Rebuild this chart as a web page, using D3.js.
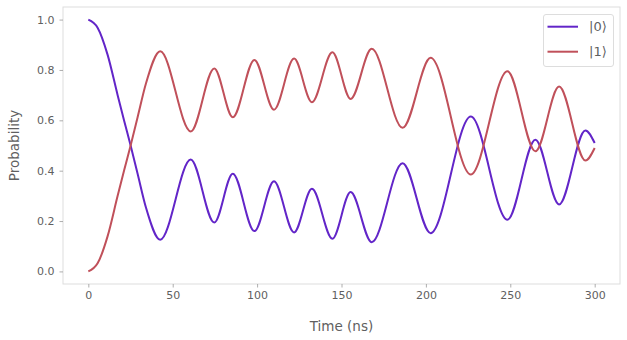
<!DOCTYPE html>
<html>
<head>
<meta charset="utf-8">
<script src="https://cdn.jsdelivr.net/npm/d3@7"></script>
<style>
  html, body { margin: 0; padding: 0; background: #ffffff; }
  svg { display: block; font-family: "DejaVu Sans", sans-serif; }
</style>
</head>
<body>
<svg id="chart" width="627" height="340"></svg>
<script>
// ---- data ----
const timesNs = [0, 5.5, 11.4, 17.3, 21.3, 24.8, 29.2, 34.1, 42.6, 60.7, 74.6, 85.6, 98.4, 110, 121.9, 132.5, 144.6, 155.4, 167.9, 186.2, 202.8, 226.6, 248.3, 264.9, 278.9, 294.5, 300];
const prob0 = [1.0, 0.968, 0.861, 0.702, 0.596, 0.507, 0.388, 0.255, 0.126, 0.444, 0.194, 0.388, 0.160, 0.358, 0.155, 0.328, 0.130, 0.315, 0.116, 0.430, 0.152, 0.615, 0.205, 0.523, 0.266, 0.560, 0.51];
const prob1 = [0.0, 0.032, 0.139, 0.298, 0.404, 0.493, 0.612, 0.745, 0.874, 0.556, 0.806, 0.612, 0.840, 0.642, 0.845, 0.672, 0.870, 0.685, 0.884, 0.570, 0.848, 0.385, 0.795, 0.477, 0.734, 0.440, 0.49];
const seriesNames = ["|0\u27E9", "|1\u27E9"];
const seriesColors = ["#6225c8", "#c0505a"];
const xTicks = [0, 50, 100, 150, 200, 250, 300];
const yTicks = [0.0, 0.2, 0.4, 0.6, 0.8, 1.0];

// ---- layout ----
const svg = d3.select("#chart");
const frame = { left: 63, top: 7, right: 620, bottom: 284 };
const textColor = "#5f5f5f";
const frameColor = "#dddddd";

const x = d3.scaleLinear().domain([-15, 315]).range([frame.left, frame.right]);
const y = d3.scaleLinear().domain([-0.05, 1.05]).range([frame.bottom, frame.top]);

// frame
svg.append("rect")
  .attr("x", frame.left).attr("y", frame.top)
  .attr("width", frame.right - frame.left).attr("height", frame.bottom - frame.top)
  .attr("fill", "none").attr("stroke", frameColor).attr("stroke-width", 1);

// axes
const xAxis = svg.append("g")
  .attr("transform", `translate(0,${frame.bottom})`)
  .call(d3.axisBottom(x).tickValues(xTicks).tickFormat(d3.format("d")).tickSizeOuter(0).tickSize(3.5).tickPadding(4));
const yAxis = svg.append("g")
  .attr("transform", `translate(${frame.left},0)`)
  .call(d3.axisLeft(y).tickValues(yTicks).tickFormat(d3.format(".1f")).tickSizeOuter(0).tickSize(3.5).tickPadding(5));

[xAxis, yAxis].forEach(g => {
  g.select(".domain").remove();
  g.selectAll(".tick line").attr("stroke", "#999999").attr("stroke-width", 0.8);
  g.selectAll(".tick text").attr("fill", textColor).style("font-size", "11px")
    .style("font-family", "'DejaVu Sans', sans-serif");
});

// axis labels
svg.append("text")
  .attr("x", (frame.left + frame.right) / 2).attr("y", 331)
  .attr("text-anchor", "middle").attr("fill", textColor)
  .style("font-size", "13.5px").text("Time (ns)");
svg.append("text")
  .attr("transform", `translate(19,${(frame.top + frame.bottom) / 2}) rotate(-90)`)
  .attr("text-anchor", "middle").attr("fill", textColor)
  .style("font-size", "13.5px").text("Probability");

// lines
const line = d3.line()
  .x(d => x(d[0])).y(d => y(d[1]))
  .curve(d3.curveMonotoneX);
const seriesData = [prob0, prob1].map(vals => timesNs.map((t, i) => [t, vals[i]]));

svg.append("g").selectAll("path")
  .data(seriesData)
  .join("path")
  .attr("d", line)
  .attr("fill", "none")
  .attr("stroke", (d, i) => seriesColors[i])
  .attr("stroke-width", 2)
  .attr("stroke-linejoin", "round");

// legend
const legend = svg.append("g");
legend.append("rect")
  .attr("x", 543.5).attr("y", 14.5).attr("width", 70).attr("height", 52)
  .attr("rx", 2.5).attr("fill", "#ffffff").attr("fill-opacity", 0.8)
  .attr("stroke", "#dddddd").attr("stroke-width", 1);
seriesNames.forEach((name, i) => {
  const cy = 26.7 + i * 25;
  legend.append("line")
    .attr("x1", 547.5).attr("x2", 578).attr("y1", cy).attr("y2", cy)
    .attr("stroke", seriesColors[i]).attr("stroke-width", 2);
  legend.append("text")
    .attr("x", 589).attr("y", cy).attr("dy", "0.36em")
    .attr("fill", textColor).style("font-size", "13px")
    .text(name);
});
</script>
</body>
</html>
